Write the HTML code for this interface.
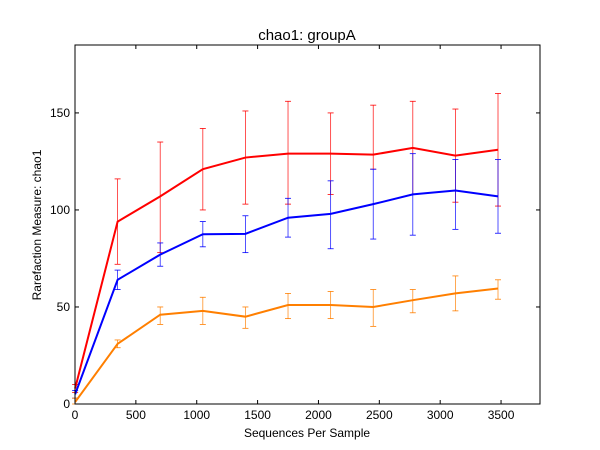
<!DOCTYPE html>
<html><head><meta charset="utf-8"><style>
body{margin:0;background:#fff;}
svg{display:block;font-family:"Liberation Sans",sans-serif;}
</style></head><body>
<svg id="chart" width="600" height="450">
<rect x="0" y="0" width="600" height="450" fill="#fff"/>
<text x="307" y="40" text-anchor="middle" font-size="15">chao1: groupA</text>
<text x="307" y="437" text-anchor="middle" font-size="12">Sequences Per Sample</text>
<text transform="translate(41,225) rotate(-90)" text-anchor="middle" font-size="12">Rarefaction Measure: chao1</text>
<g id="marks"></g>
<rect x="75" y="45" width="465" height="359" fill="none" stroke="#000" stroke-width="1"/>
</svg>
<script>
const xs = [1, 350, 700, 1050, 1400, 1750, 2100, 2450, 2775, 3125, 3475];
const xTicks = [0, 500, 1000, 1500, 2000, 2500, 3000, 3500];
const yTicks = [0, 50, 100, 150];
const redMean = [8, 94, 107, 121, 127, 129, 129, 128.5, 132, 128, 131];
const redLo = [6, 72, 78, 100, 103, 103, 108, 121, 108, 104, 102];
const redHi = [10, 116, 135, 142, 151, 156, 150, 154, 156, 152, 160];
const blueMean = [5, 64, 77, 87.5, 87.7, 96, 98, 103, 108, 110, 107];
const blueLo = [3, 59, 71, 81, 78, 86, 80, 85, 87, 90, 88];
const blueHi = [7, 69, 83, 94, 97, 106, 115, 121, 129, 126, 126];
const orangeMean = [1, 31, 46, 48, 45, 51, 51, 50, 53.5, 57, 59.5];
const orangeLo = [0, 29, 41, 41, 39, 44, 44, 40, 47, 48, 54];
const orangeHi = [3, 33, 50, 55, 50, 57, 58, 59, 59, 66, 64];

const X0=75,X1=540,Y0=404,Y1=45,XMAX=3820,YMAX=185;
const sx=v=>X0+v/XMAX*(X1-X0);
const sy=v=>Y0-v/YMAX*(Y0-Y1);
const NS="http://www.w3.org/2000/svg";
const g=document.getElementById('marks');
function mk(t,a,p){const e=document.createElementNS(NS,t);for(const k in a)e.setAttribute(k,a[k]);(p||g).appendChild(e);return e;}

xTicks.forEach(v=>{
  const t=mk('line',{x1:sx(v),x2:sx(v),y1:Y0,y2:Y0-4,stroke:'#000'});
  
  
  mk('line',{x1:sx(v),x2:sx(v),y1:Y1,y2:Y1+4,stroke:'#000'});
  const l=mk('text',{x:sx(v),y:Y0+15,'text-anchor':'middle','font-size':'12'});
  l.textContent=v;
  
  
});
yTicks.forEach(v=>{
  const t=mk('line',{x1:X0,x2:X0+4,y1:sy(v),y2:sy(v),stroke:'#000'});
  
  
  mk('line',{x1:X1,x2:X1-4,y1:sy(v),y2:sy(v),stroke:'#000'});
  const l=mk('text',{x:X0-5,y:sy(v)+4,'text-anchor':'end','font-size':'12'});
  l.textContent=v;
  
  
});

function series(name,color,mean,lo,hi){
  xs.forEach((x,i)=>{
    const e=mk('line',{x1:sx(x),x2:sx(x),y1:sy(lo[i]),y2:sy(hi[i]),stroke:color,'stroke-width':0.8,'stroke-opacity':0.85});
    
    
    mk('line',{x1:sx(x)-3,x2:sx(x)+3,y1:sy(lo[i]),y2:sy(lo[i]),stroke:color,'stroke-width':0.8});
    mk('line',{x1:sx(x)-3,x2:sx(x)+3,y1:sy(hi[i]),y2:sy(hi[i]),stroke:color,'stroke-width':0.8});
  });
  const p=mk('polyline',{points:xs.map((x,i)=>sx(x)+','+sy(mean[i])).join(' '),fill:'none',stroke:color,'stroke-width':2});
  
  
}
series('red-series','#ff0000',redMean,redLo,redHi);
series('blue-series','#0000ff',blueMean,blueLo,blueHi);
series('orange-series','#ff7f00',orangeMean,orangeLo,orangeHi);
</script>
</body></html>
